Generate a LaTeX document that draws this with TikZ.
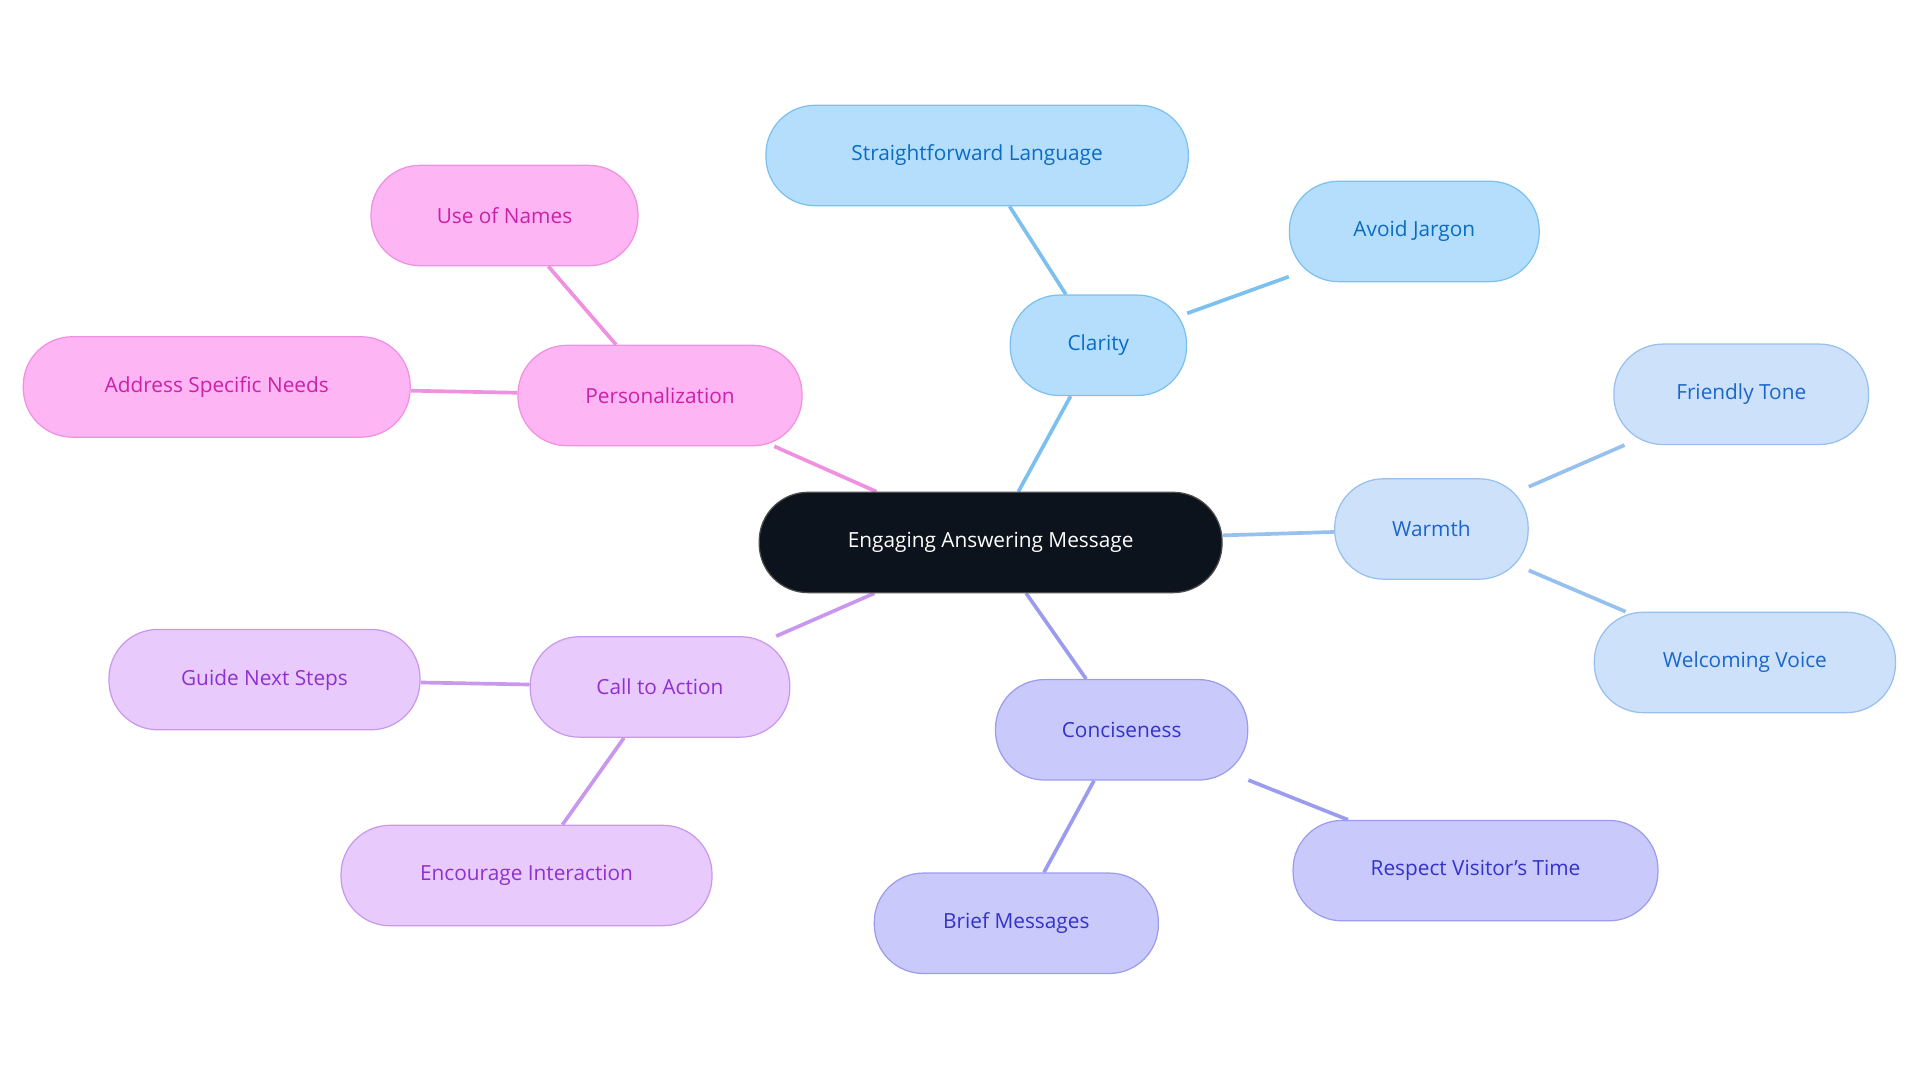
\documentclass[tikz,border=0pt]{standalone}
\usepackage{fontspec}
\setmainfont{Open Sans}
\usetikzlibrary{backgrounds}
\definecolor{rootc}{HTML}{0D131C}
\definecolor{cf}{HTML}{B5DEFC}\definecolor{cd}{HTML}{7CC0F0}\definecolor{ct}{HTML}{0A6CC4}
\definecolor{wf}{HTML}{CDE1FA}\definecolor{wd}{HTML}{96C0EE}\definecolor{wt}{HTML}{1A66CC}
\definecolor{nf}{HTML}{C9C9FC}\definecolor{nd}{HTML}{9C9CEE}\definecolor{nt}{HTML}{3333CC}
\definecolor{af}{HTML}{E8CBFC}\definecolor{ad}{HTML}{C898EE}\definecolor{atc}{HTML}{9030D0}
\definecolor{pf}{HTML}{FDB5F3}\definecolor{pd}{HTML}{F090E0}\definecolor{ptc}{HTML}{CC20A8}
\tikzset{
 box/.style={rounded corners=40pt,minimum height=82pt,font=\fontsize{17pt}{20pt}\selectfont,inner sep=0pt,line width=1pt},
 cl/.style={box,fill=cf,draw=cd,text=ct},
 wa/.style={box,fill=wf,draw=wd,text=wt},
 co/.style={box,fill=nf,draw=nd,text=nt},
 ca/.style={box,fill=af,draw=ad,text=atc},
 pe/.style={box,fill=pf,draw=pd,text=ptc},
 ln/.style={line width=3pt}
}
\begin{document}
\begin{tikzpicture}[x=1pt,y=-1pt]
\useasboundingbox (0,0) rectangle (1568,884);
\node[box,fill=rootc,draw=gray!60!black,text=white,minimum width=378pt] (root) at (809,443) {Engaging Answering Message};
\node[cl,minimum width=144pt] (cla) at (897,282) {Clarity};
\node[cl,minimum width=345pt] (sl) at (798,127) {Straightforward Language};
\node[cl,minimum width=204pt] (aj) at (1155,189) {Avoid Jargon};
\node[wa,minimum width=158pt] (war) at (1169,432) {Warmth};
\node[wa,minimum width=208pt] (ft) at (1422,322) {Friendly Tone};
\node[wa,minimum width=246pt] (wv) at (1425,541) {Welcoming Voice};
\node[co,minimum width=206pt] (con) at (916,596) {Conciseness};
\node[co,minimum width=298pt] (rv) at (1205,711) {Respect Visitor's Time};
\node[co,minimum width=232pt] (bm) at (830,754) {Brief Messages};
\node[ca,minimum width=212pt] (cta) at (539,561) {Call to Action};
\node[ca,minimum width=254pt] (gn) at (216,555) {Guide Next Steps};
\node[ca,minimum width=303pt] (ei) at (430,715) {Encourage Interaction};
\node[pe,minimum width=232pt] (per) at (539,323) {Personalization};
\node[pe,minimum width=218pt] (un) at (412,176) {Use of Names};
\node[pe,minimum width=316pt] (as) at (177,316) {Address Specific Needs};
\begin{scope}[on background layer]
\draw[ln,cd] (root) -- (cla); \draw[ln,cd] (cla) -- (sl); \draw[ln,cd] (cla) -- (aj);
\draw[ln,wd] (root) -- (war); \draw[ln,wd] (war) -- (ft); \draw[ln,wd] (war) -- (wv);
\draw[ln,nd] (root) -- (con); \draw[ln,nd] (con) -- (rv); \draw[ln,nd] (con) -- (bm);
\draw[ln,ad] (root) -- (cta); \draw[ln,ad] (cta) -- (gn); \draw[ln,ad] (cta) -- (ei);
\draw[ln,pd] (root) -- (per); \draw[ln,pd] (per) -- (un); \draw[ln,pd] (per) -- (as);
\end{scope}
\end{tikzpicture}
\end{document}
